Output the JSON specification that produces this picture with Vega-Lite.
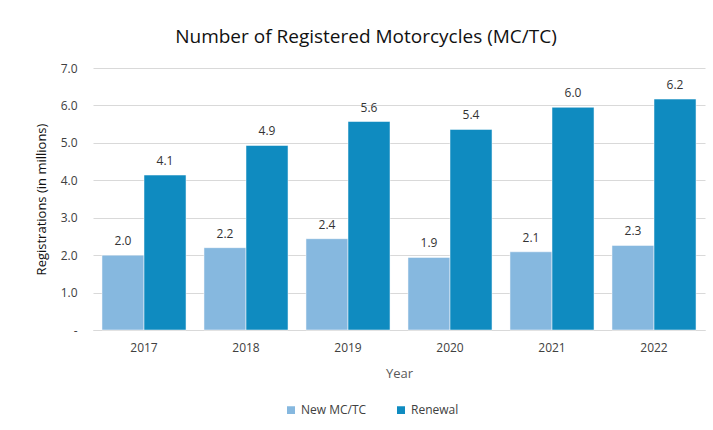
{
  "$schema": "https://vega.github.io/schema/vega-lite/v6.json",
  "autosize": "none",
  "width": 612,
  "height": 262,
  "padding": {"left": 93, "top": 68, "right": 8, "bottom": 100},
  "background": "white",
  "config": {
    "font": "Open Sans",
    "view": {"stroke": null}
  },
  "title": {
    "text": "Number of Registered Motorcycles (MC/TC)",
    "fontSize": 19,
    "fontWeight": "normal",
    "color": "#111111",
    "font": "Open Sans",
    "anchor": "middle",
    "dx": -33,
    "offset": 15
  },
  "data": {
    "values": [
      {"Year": "2017", "Type": "New MC/TC", "Value": 2.0},
      {"Year": "2017", "Type": "Renewal", "Value": 4.14},
      {"Year": "2018", "Type": "New MC/TC", "Value": 2.2},
      {"Year": "2018", "Type": "Renewal", "Value": 4.93},
      {"Year": "2019", "Type": "New MC/TC", "Value": 2.44},
      {"Year": "2019", "Type": "Renewal", "Value": 5.57},
      {"Year": "2020", "Type": "New MC/TC", "Value": 1.94},
      {"Year": "2020", "Type": "Renewal", "Value": 5.36},
      {"Year": "2021", "Type": "New MC/TC", "Value": 2.09},
      {"Year": "2021", "Type": "Renewal", "Value": 5.95},
      {"Year": "2022", "Type": "New MC/TC", "Value": 2.26},
      {"Year": "2022", "Type": "Renewal", "Value": 6.17}
    ]
  },
  "encoding": {
    "x": {
      "field": "Year",
      "type": "nominal",
      "scale": {"paddingInner": 0.176, "paddingOuter": 0.088},
      "axis": {
        "title": "Year",
        "titleFontSize": 13,
        "titleFontWeight": "normal",
        "titleColor": "#595959",
        "titlePadding": 14,
        "labelAngle": 0,
        "labelFontSize": 12,
        "labelColor": "#404040",
        "labelPadding": 12,
        "ticks": false,
        "domainColor": "#d9d9d9",
        "domainWidth": 1
      }
    },
    "xOffset": {"field": "Type", "type": "nominal", "scale": {"paddingInner": 0}},
    "y": {
      "field": "Value",
      "type": "quantitative",
      "scale": {"domain": [0, 7]},
      "axis": {
        "title": "Registrations (in millions)",
        "titleFontSize": 13,
        "titleFontWeight": "normal",
        "titleColor": "#111111",
        "titlePadding": 12,
        "values": [0, 1, 2, 3, 4, 5, 6, 7],
        "labelExpr": "datum.value == 0 ? '-' : format(datum.value, '.1f')",
        "labelFontSize": 12,
        "labelColor": "#404040",
        "labelPadding": 16,
        "ticks": false,
        "domain": false,
        "gridColor": "#d9d9d9",
        "gridWidth": 1
      }
    },
    "color": {
      "field": "Type",
      "type": "nominal",
      "scale": {"domain": ["New MC/TC", "Renewal"], "range": ["#86B8DF", "#0F8BC0"]},
      "legend": {
        "title": null,
        "orient": "none",
        "legendX": 192,
        "legendY": 336,
        "direction": "horizontal",
        "symbolType": "square",
        "symbolSize": 90,
        "labelFontSize": 12,
        "labelColor": "#404040",
        "columnPadding": 26
      }
    }
  },
  "layer": [
    {"mark": {"type": "bar", "stroke": "white", "strokeWidth": 0.5}},
    {
      "mark": {"type": "text", "dy": -14, "fontSize": 12, "color": "#333333"},
      "encoding": {
        "text": {"field": "Value", "type": "quantitative", "format": ".1f"},
        "color": {"value": "#333333"}
      }
    }
  ]
}
